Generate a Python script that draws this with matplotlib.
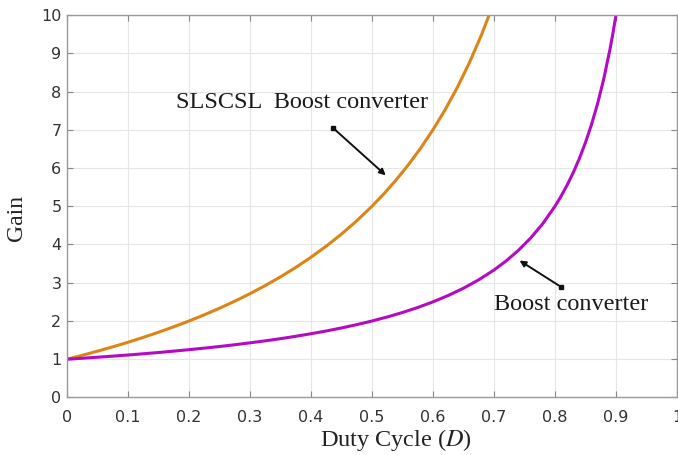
import matplotlib
matplotlib.use("Agg")
import matplotlib.pyplot as plt

# duty cycle / gain
d_boost = [0, 0.025, 0.05, 0.075, 0.1, 0.125, 0.15, 0.175, 0.2, 0.225, 0.25, 0.275,
           0.3, 0.325, 0.35, 0.375, 0.4, 0.425, 0.45, 0.475, 0.5, 0.525, 0.55, 0.575,
           0.6, 0.625, 0.65, 0.675, 0.7, 0.72, 0.74, 0.76, 0.78, 0.8, 0.81, 0.82,
           0.83, 0.84, 0.85, 0.86, 0.87, 0.88, 0.89, 0.895, 0.9]
g_boost = [1.0, 1.026, 1.053, 1.081, 1.111, 1.143, 1.176, 1.212, 1.25, 1.29, 1.333,
           1.379, 1.429, 1.481, 1.538, 1.6, 1.667, 1.739, 1.818, 1.905, 2.0, 2.105,
           2.222, 2.353, 2.5, 2.667, 2.857, 3.077, 3.333, 3.571, 3.846, 4.167, 4.545,
           5.0, 5.263, 5.556, 5.882, 6.25, 6.667, 7.143, 7.692, 8.333, 9.091, 9.524,
           10.0]

d_slscsl = [0, 0.025, 0.05, 0.075, 0.1, 0.125, 0.15, 0.175, 0.2, 0.225, 0.25, 0.275,
            0.3, 0.325, 0.35, 0.375, 0.4, 0.425, 0.45, 0.475, 0.5, 0.52, 0.54, 0.56,
            0.58, 0.6, 0.62, 0.64, 0.66, 0.68, 0.692]
g_slscsl = [1.0, 1.103, 1.211, 1.324, 1.444, 1.571, 1.706, 1.848, 2.0, 2.161, 2.333,
            2.517, 2.714, 2.926, 3.154, 3.4, 3.667, 3.957, 4.273, 4.619, 5.0, 5.333,
            5.696, 6.091, 6.524, 7.0, 7.526, 8.111, 8.765, 9.5, 10.0]

x_ticks = [0, 0.1, 0.2, 0.3, 0.4, 0.5, 0.6, 0.7, 0.8, 0.9, 1]
x_labels = ["0", "0.1", "0.2", "0.3", "0.4", "0.5", "0.6", "0.7", "0.8", "0.9", "1"]
y_ticks = list(range(0, 11))

serif = ["Liberation Serif", "DejaVu Serif"]
sans = ["DejaVu Sans"]
plt.rcParams["mathtext.fontset"] = "stix"

fig = plt.figure(figsize=(6.78, 4.55), dpi=100)
ax = fig.add_axes([0.0988, 0.1264, 0.8997, 0.8406])

ax.plot(d_slscsl, g_slscsl, color="#DE8416", lw=2.2, solid_capstyle="butt")
ax.plot(d_boost, g_boost, color="#B40AC4", lw=2.2, solid_capstyle="butt")

ax.set_xlim(0, 1)
ax.set_ylim(0, 10)
ax.set_xticks(x_ticks)
ax.set_xticklabels(x_labels)
ax.set_yticks(y_ticks)
ax.grid(True, color="#E6E6E6", lw=0.8)
ax.set_axisbelow(True)
ax.tick_params(direction="in", top=True, right=True, length=4, width=0.8,
               colors="#888888", labelcolor="#333333", labelsize=11.5)
ax.tick_params(axis="x", pad=9)
ax.tick_params(axis="y", pad=4)
for lab in ax.get_xticklabels() + ax.get_yticklabels():
    lab.set_family(sans)
for s in ax.spines.values():
    s.set_color("#999999")
    s.set_linewidth(1.0)

ax.set_xlabel("Duty Cycle ($\\mathit{D}$)", family=serif, fontsize=17.5, color="#222222")
ax.xaxis.set_label_coords(0.54, -0.076)
ax.set_ylabel("Gain", family=serif, fontsize=17, color="#222222")
ax.yaxis.set_label_coords(-0.066, 0.47)

ax.annotate("", xy=(0.526, 5.76), xytext=(0.436, 7.05),
            arrowprops=dict(arrowstyle="-|>", color="#111111", lw=1.4, mutation_scale=9))
ax.plot([0.436], [7.05], marker="s", ms=3.5, color="#111111")
ax.text(0.385, 7.72, "SLSCSL  Boost converter", family=serif, fontsize=17.5,
        ha="center", va="center", color="#1a1a1a")

ax.annotate("", xy=(0.738, 3.62), xytext=(0.81, 2.89),
            arrowprops=dict(arrowstyle="-|>", color="#111111", lw=1.4, mutation_scale=9))
ax.plot([0.81], [2.89], marker="s", ms=3.5, color="#111111")
ax.text(0.826, 2.42, "Boost converter", family=serif, fontsize=17.5,
        ha="center", va="center", color="#1a1a1a")

fig.savefig("out.png", dpi=100)
